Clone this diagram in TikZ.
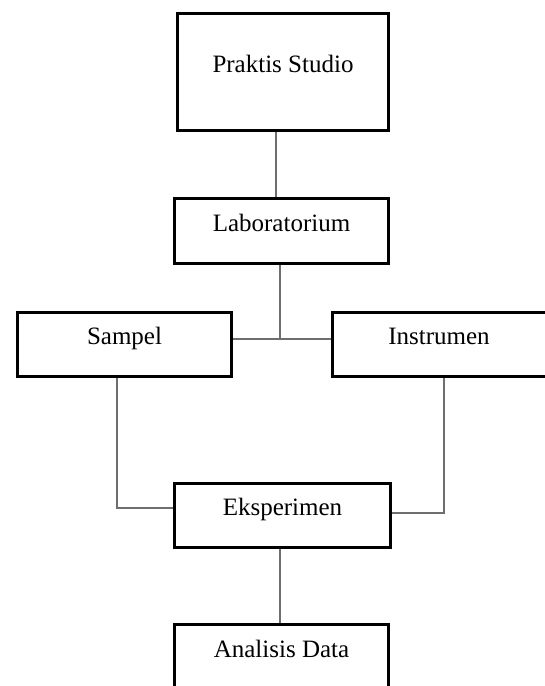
\documentclass[tikz,border=0pt]{standalone}
\usepackage{fontspec}
\setmainfont{Liberation Serif}
\definecolor{connc}{RGB}{110,110,110}
\begin{document}
\begin{tikzpicture}[x=1pt,y=-1pt,
  box/.style={draw=black,line width=3pt,rectangle,inner sep=0pt,
    text height=17pt,text depth=17pt,font=\fontsize{25}{30}\selectfont},
  conn/.style={draw=connc,line width=1.2pt}]
\useasboundingbox (0,0) rectangle (544,686);
\node[box,minimum width=211pt,minimum height=117pt] (ps) at (283,72) {Praktis Studio};
\node[box,minimum width=214pt,minimum height=65pt] (lab) at (281.5,231) {Laboratorium};
\node[box,minimum width=214pt,minimum height=64pt] (sam) at (124.5,344.5) {Sampel};
\node[box,minimum width=221pt,minimum height=64pt] (ins) at (443,344.5) {Instrumen\hspace*{8pt}};
\node[box,minimum width=216pt,minimum height=64pt] (eks) at (282.5,515.5) {Eksperimen};
\node[box,minimum width=214pt,minimum height=66pt] (ana) at (281.5,657.5) {Analisis Data};
\coordinate (a) at (276,0);
\coordinate (j) at (280,339);
\coordinate (l) at (117,508);
\coordinate (r) at (444,513);
\coordinate (b) at (280,0);
\draw[conn] (ps.south -| a) -- (lab.north -| a);
\draw[conn] (lab.south -| j) -- (j);
\draw[conn] (sam.east |- j) -- (ins.west |- j);
\draw[conn] (sam.south -| l) -- (l) -- (eks.west |- l);
\draw[conn] (ins.south -| r) -- (r) -- (eks.east |- r);
\draw[conn] (eks.south -| b) -- (ana.north -| b);
\end{tikzpicture}
\end{document}
